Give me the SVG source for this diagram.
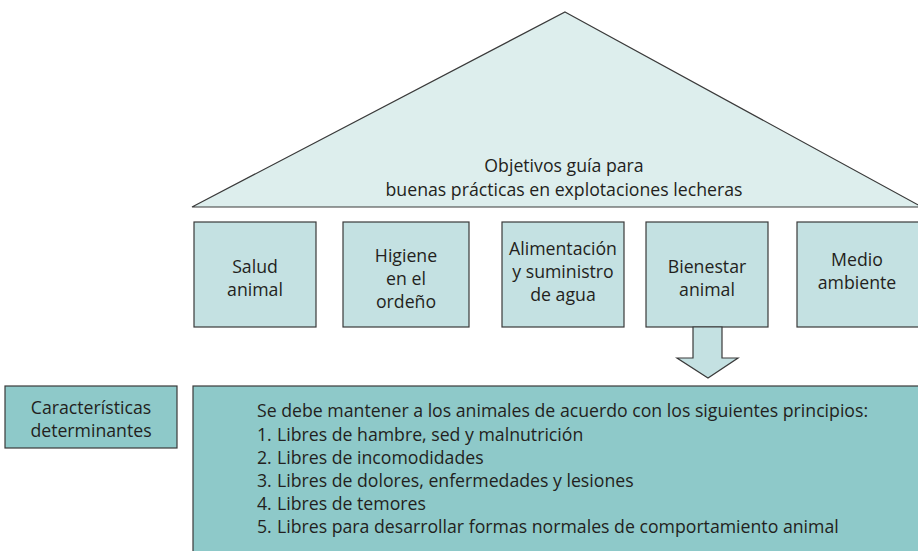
<svg xmlns="http://www.w3.org/2000/svg" width="918" height="551" viewBox="0 0 918 551">
<style>
text{font-family:"Open Sans","Liberation Sans",sans-serif;font-size:17.7px;fill:#231f20}
.c{text-anchor:middle}
.box{fill:#c4e1e2;stroke:#3a3a3a;stroke-width:1.2}
.dark{fill:#8ec9c9;stroke:#3a3a3a;stroke-width:1.2}
</style>
<rect width="918" height="551" fill="#fff"/>
<g id="roof">
<polygon points="565,12 922,207 192,207" fill="#ddeeed" stroke="#3a3a3a" stroke-width="1.2"/>
<text class="c" x="564" y="172">Objetivos guía para</text>
<text class="c" x="564" y="196">buenas prácticas en explotaciones lecheras</text>
</g>
<g id="salud">
<rect class="box" x="194" y="222" width="122" height="105"/>
<text class="c" x="255" y="273">Salud</text>
<text class="c" x="255" y="296">animal</text>
</g>
<g id="higiene">
<rect class="box" x="343" y="222" width="126" height="105"/>
<text class="c" x="406" y="262">Higiene</text>
<text class="c" x="406" y="285">en el</text>
<text class="c" x="406" y="308">ordeño</text>
</g>
<g id="alimentacion">
<rect class="box" x="502" y="222" width="122" height="105"/>
<text class="c" x="563" y="255">Alimentación</text>
<text class="c" x="563" y="278">y suministro</text>
<text class="c" x="563" y="301">de agua</text>
</g>
<g id="bienestar">
<rect class="box" x="646" y="222" width="122" height="105"/>
<text class="c" x="707" y="273">Bienestar</text>
<text class="c" x="707" y="296">animal</text>
</g>
<g id="medio">
<rect class="box" x="797" y="222" width="130" height="105"/>
<text class="c" x="857" y="266">Medio</text>
<text class="c" x="857" y="289">ambiente</text>
</g>
<g id="connectors">
<polygon points="693,327 722,327 722,358 738,358 708,378 677,358 693,358" fill="#c4e1e2" stroke="#3a3a3a" stroke-width="1.2"/>
</g>
<g id="caracteristicas">
<rect class="dark" x="5" y="386" width="172" height="62"/>
<text class="c" x="91" y="414">Características</text>
<text class="c" x="91" y="437">determinantes</text>
</g>
<g id="principios">
<rect class="dark" x="193" y="386" width="740" height="180"/>
<text x="257" y="417">Se debe mantener a los animales de acuerdo con los siguientes principios:</text>
<text x="257" y="441">1.</text><text x="277" y="441">Libres de hambre, sed y malnutrición</text>
<text x="257" y="464">2.</text><text x="277" y="464">Libres de incomodidades</text>
<text x="257" y="487">3.</text><text x="277" y="487">Libres de dolores, enfermedades y lesiones</text>
<text x="257" y="510">4.</text><text x="277" y="510">Libres de temores</text>
<text x="257" y="533">5.</text><text x="277" y="533">Libres para desarrollar formas normales de comportamiento animal</text>
</g>
</svg>
